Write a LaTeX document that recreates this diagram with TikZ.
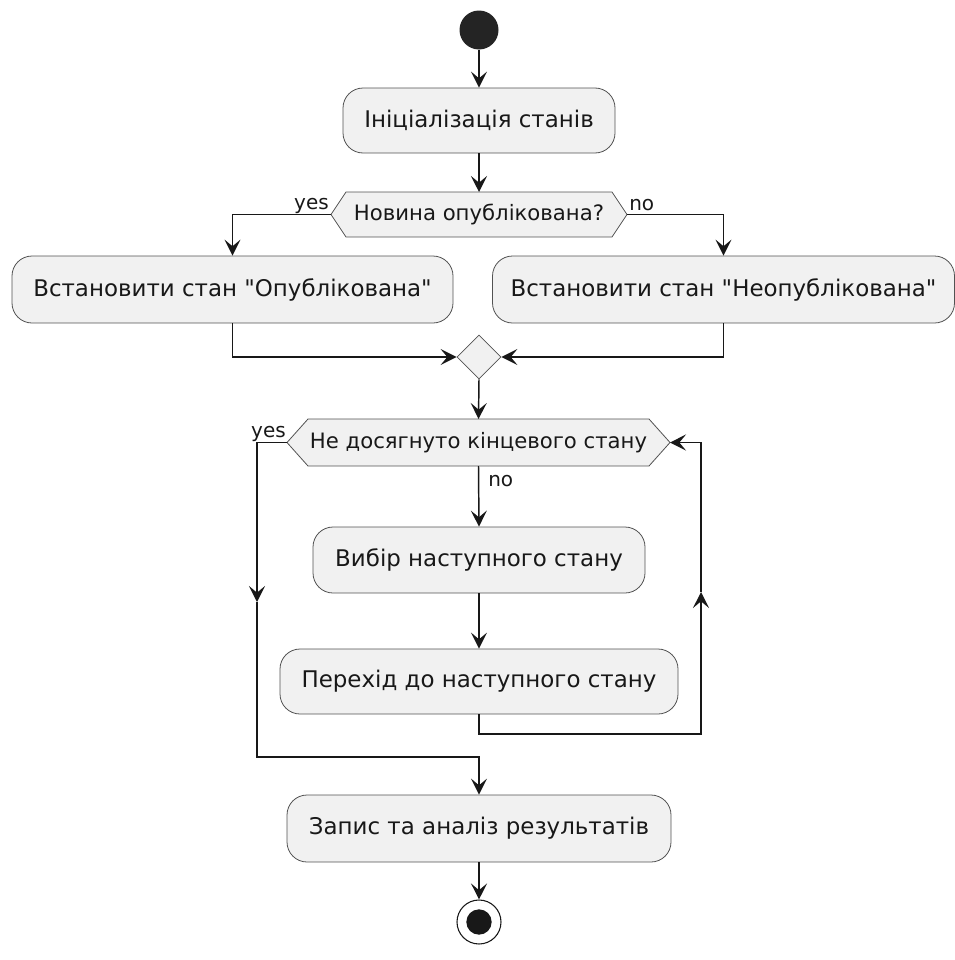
\documentclass[tikz,border=0pt]{standalone}
\usepackage{fontspec}
\setmainfont{DejaVu Sans}
\newfontfamily\djvplain{DejaVu Sans}
\usetikzlibrary{shapes.geometric,arrows.meta,backgrounds}
\definecolor{boxfill}{HTML}{F1F1F1}
\definecolor{ink}{HTML}{181818}
\newcommand{\dq}{{\djvplain\symbol{34}}}
\begin{document}
\begin{tikzpicture}[x=0.75pt,y=-0.75pt,
 act/.style={draw=ink!75, line width=0.6pt, fill=boxfill, rounded corners=15pt, inner sep=0pt, font=\fontsize{17.2}{20}\selectfont, text=ink},
 hextext/.style={inner sep=0pt, outer sep=0pt, font=\fontsize{15.9}{18}\selectfont, text=ink},
 hexshape/.style={draw=ink!75, line width=0.6pt, fill=boxfill},
 lbl/.style={font=\fontsize{15}{17}\selectfont, text=ink, inner sep=0pt},
 flow/.style={draw=ink, line width=1.1pt, -{Stealth[length=12pt,width=12pt,inset=5pt]}},
]
\useasboundingbox (0,0) rectangle (955,960);

% start
\node[circle, fill=ink!95, minimum size=29.25pt, inner sep=0pt] (s) at (479,30) {};
% actions
\node[act, minimum width=204pt, minimum height=48.75pt] (b1) at (479,120.5) {Ініціалізація станів};
\node[hextext, minimum width=199.5pt, minimum height=33.75pt] (h1) at (479,214.5) {Новина опублікована?};
\coordinate (h1l) at (331,214.5);
\coordinate (h1r) at (627,214.5);
\node[act, minimum width=330.75pt, minimum height=50.25pt] (b2) at (232.5,289.5) {Встановити стан \dq Опублікована\dq};
\node[act, minimum width=346.5pt, minimum height=50.25pt] (b3) at (723.5,289.5) {Встановити стан \dq Неопублікована\dq};
\node[diamond, aspect=1, draw=ink!75, line width=0.6pt, fill=boxfill, minimum width=33pt, minimum height=33pt, inner sep=0pt] (m) at (479,357) {};
\node[hextext, minimum width=255.75pt, minimum height=35.25pt] (h2) at (478.5,442.5) {Не досягнуто кінцевого стану};
\coordinate (h2l) at (287,442.5);
\coordinate (h2r) at (670,442.5);
\node[act, minimum width=249pt, minimum height=49.5pt] (b4) at (479,560) {Вибір наступного стану};
\node[act, minimum width=298.5pt, minimum height=48.75pt] (b5) at (479,681.5) {Перехід до наступного стану};
\node[act, minimum width=288pt, minimum height=50.25pt] (b6) at (479,828.5) {Запис та аналіз результатів};
% end
\node[circle, draw=ink, line width=0.8pt, fill=white, minimum size=33pt, inner sep=0pt] (e) at (479,922) {};
\node[circle, fill=ink, minimum size=19pt, inner sep=0pt] (ein) at (e) {};

\begin{scope}[on background layer]
\path[hexshape] (h1.north west) -- (h1.north east) -- (h1r) -- (h1.south east) -- (h1.south west) -- (h1l) -- cycle;
\path[hexshape] (h2.north west) -- (h2.north east) -- (h2r) -- (h2.south east) -- (h2.south west) -- (h2l) -- cycle;
\end{scope}

% labels
\node[lbl, anchor=base east] (y1) at (329,209) {yes};
\node[lbl, anchor=base west] (n1) at (629,210) {no};
\node[lbl, anchor=base east] (y2) at (286,437) {yes};
\node[lbl, anchor=base west] (n2) at (488,486) {no};

% loop helper points
\coordinate (lmid) at (257,602);
\coordinate (lbot) at (257,757);
\coordinate (rbot) at (701,734);
\coordinate (rmid) at (701,592);

% connectors
\draw[flow] (s) -- (b1);
\draw[flow] (b1) -- (h1.north);
\draw[flow] (h1l) -| (b2.north);
\draw[flow] (h1r) -| (b3.north);
\draw[flow] (b2.south) |- (m.west);
\draw[flow] (b3.south) |- (m.east);
\draw[flow] (m.south) -- (h2.north);
\draw[flow] (h2.south) -- (b4.north);
\draw[flow] (b4.south) -- (b5.north);
\draw[flow] (h2l) -- (h2l -| lmid) -- (lmid);
\draw[flow] (lmid) -- (lbot) -| (b6.north);
\draw[flow] (b5.south) |- (rbot) -- (rmid);
\draw[flow] (rmid) -- (rmid |- h2r) -- (h2r);
\draw[flow] (b6.south) -- (e.north);
\end{tikzpicture}
\end{document}
